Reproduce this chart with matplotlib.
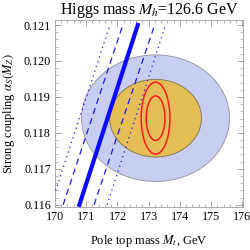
import numpy as np
import matplotlib
matplotlib.use('Agg')
import matplotlib.pyplot as plt
from matplotlib.patches import Ellipse
from matplotlib.ticker import MultipleLocator

plt.rcParams['font.family'] = ['Liberation Serif', 'DejaVu Serif']
plt.rcParams['mathtext.fontset'] = 'stix'

# ellipses: centre (Mt, alpha_s), semi-axes
mt0 = 173.22
as0 = 0.11841
blue_semi = (2.37, 0.00176)
gold_semi = (1.47, 0.00108)
red_semi = [(0.46, 0.00100), (0.30, 0.00062)]

# stability lines: Mt at alpha_s = 0.116 and at alpha_s = 0.121
line_bottom = [169.87, 170.26, 170.78, 171.25, 171.67]
line_top = [171.76, 172.17, 172.65, 173.19, 173.54]
line_style = [':', '--', '-', '--', ':']
line_width = [0.9, 0.9, 3.0, 0.9, 0.9]
as_range = [0.116, 0.121]

fig = plt.figure(figsize=(2.5, 2.5), dpi=100)
ax = fig.add_axes([0.22, 0.172, 0.752, 0.748])

ax.add_patch(Ellipse((mt0, as0), 2*blue_semi[0], 2*blue_semi[1],
                     facecolor='#c8cdf2', edgecolor='#9a9aaa', lw=0.7, zorder=1))
ax.add_patch(Ellipse((mt0, as0), 2*gold_semi[0], 2*gold_semi[1],
                     facecolor='#e5be58', edgecolor='#8a7a50', lw=0.7, zorder=2))
for w, h in red_semi:
    ax.add_patch(Ellipse((mt0, as0), 2*w, 2*h, facecolor='none',
                         edgecolor='#ff1a1a', lw=1.1, zorder=4))

for xb, xt, ls, lw in zip(line_bottom, line_top, line_style, line_width):
    if ls == '--':
        ax.plot([xb, xt], as_range, color='#1a1aff', lw=lw,
                dashes=(5, 3.5), zorder=3)
    elif ls == ':':
        ax.plot([xb, xt], as_range, color='#1a1aff', lw=lw,
                dashes=(1, 3), zorder=3)
    else:
        ax.plot([xb, xt], as_range, color='#0a0aff', ls=ls, lw=lw, zorder=3)

ax.set_xlim(170, 176.02)
ax.set_ylim(0.11594, 0.12114)
ax.xaxis.set_minor_locator(MultipleLocator(0.2))
ax.yaxis.set_minor_locator(MultipleLocator(0.0002))
ax.set_xticks(np.arange(170, 177, 1))
ax.set_xticklabels([str(v) for v in range(170, 177)])
ax.set_yticks([0.116, 0.117, 0.118, 0.119, 0.120, 0.121])
ax.set_yticklabels(['0.116', '0.117', '0.118', '0.119', '0.120', '0.121'])
ax.tick_params(which='both', direction='in', top=True, right=True,
               color='#999999', labelsize=8.7, pad=3)
ax.tick_params(which='major', length=4, width=0.6)
ax.tick_params(which='minor', length=2, width=0.5)
for s in ax.spines.values():
    s.set_color('#aaaaaa')
    s.set_linewidth(0.7)

ax.set_title(r'Higgs mass $M_h$=126.6 GeV', fontsize=11.5, pad=3)
ax.set_xlabel(r'Pole top mass $M_t$, GeV', fontsize=9, labelpad=7)
ax.set_ylabel(r'Strong coupling $\alpha_S(M_Z)$', fontsize=9, labelpad=5)

fig.savefig('out.png', dpi=100)
